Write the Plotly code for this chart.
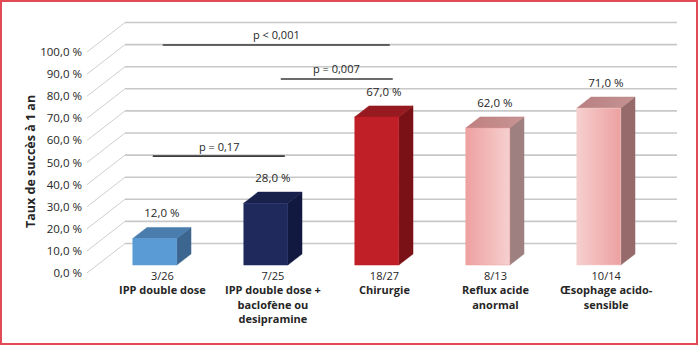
import plotly.graph_objects as go

# ---------------- data ----------------
fractions = ["3/26", "7/25", "18/27", "8/13", "10/14"]
names = ["IPP double dose", "IPP double dose +<br>baclofène ou<br>desipramine", "Chirurgie",
         "Reflux acide<br>anormal", "Œsophage acido-<br>sensible"]
values = [12.0, 28.0, 67.0, 62.0, 71.0]
value_text = ["12,0 %", "28,0 %", "67,0 %", "62,0 %", "71,0 %"]
tick_vals = [0, 10, 20, 30, 40, 50, 60, 70, 80, 90, 100]
tick_text = ["0,0 %", "10,0 %", "20,0 %", "30,0 %", "40,0 %", "50,0 %", "60,0 %",
             "70,0 %", "80,0 %", "90,0 %", "100,0 %"]
y_title = "Taux de succès à 1 an"
p_text = ["p < 0,001", "p = 0,007", "p = 0,17"]
p_pairs = [(0, 2), (1, 2), (0, 1)]
p_level = [103.2, 87.8, 52.9]

# ---------------- style / geometry ----------------
W, H = 700, 346
PX_CAT, PX_PCT = 111.0, 2.21
ORIGIN_X, ORIGIN_Y = 144.5, 273.0
DEPTH_DX, DEPTH_DY = 38.0, 29.5
KX, KV = DEPTH_DX / PX_CAT, DEPTH_DY / PX_PCT
D0, D1 = 0.27, 0.645
HW = 22.0 / PX_CAT
X_LEFT = (87 - ORIGIN_X) / PX_CAT
X_RIGHT = (677 - DEPTH_DX - ORIGIN_X) / PX_CAT
FONT = "Open Sans"
TXT = "#262626"
BRACKET_PAD = [(8, 13), (15, 16), (-2, 19)]

face_styles = [
    dict(front="#5b9bd5", top="#4a7cae", side="#3c668f"),
    dict(front="#1f295c", top="#18204c", side="#111940"),
    dict(front="#c01f28", top="#961a1f", side="#7a1116"),
    dict(front=("#eea0a0", "#f6d0d0"), top=("#bf7f7f", "#c89595"), side="#9e8080"),
    dict(front=("#f6cfcf", "#eda0a0"), top=("#b98080", "#c49292"), side="#966a6a"),
]


def P(x, v, d):
    return x + KX * d, v + KV * d


fig = go.Figure()

# grid: side wall diagonals and back wall lines
dx, dy, bx, by = [], [], [], []
for t in tick_vals:
    a = P(X_LEFT, t, 0)
    b = P(X_LEFT, t, 1)
    c = P(X_RIGHT, t, 1)
    dx += [a[0], b[0], None]
    dy += [a[1], b[1], None]
    bx += [b[0], c[0], None]
    by += [b[1], c[1], None]
fig.add_trace(go.Scatter(x=dx, y=dy, mode="lines", line=dict(color="#cfcfcf", width=1),
                         hoverinfo="skip", showlegend=False))
fig.add_trace(go.Scatter(x=bx, y=by, mode="lines", line=dict(color="#c8c8c8", width=1.6),
                         hoverinfo="skip", showlegend=False))


def face(pts, col):
    xs = [p[0] for p in pts] + [pts[0][0]]
    ys = [p[1] for p in pts] + [pts[0][1]]
    kw = dict(x=xs, y=ys, mode="lines", fill="toself", hoverinfo="skip", showlegend=False)
    if isinstance(col, tuple):
        kw["line"] = dict(width=0.5, color=col[0])
        kw["fillcolor"] = col[0]
        kw["fillgradient"] = dict(type="horizontal", colorscale=[[0, col[0]], [1, col[1]]])
    else:
        kw["line"] = dict(width=0.5, color=col)
        kw["fillcolor"] = col
    fig.add_trace(go.Scatter(**kw))


for i, v in enumerate(values):
    st = face_styles[i]
    l, r = i - HW, i + HW
    face([P(r, 0, D0), P(r, 0, D1), P(r, v, D1), P(r, v, D0)], st["side"])
    face([P(l, v, D0), P(r, v, D0), P(r, v, D1), P(l, v, D1)], st["top"])
    face([P(l, 0, D0), P(r, 0, D0), P(r, v, D0), P(l, v, D0)], st["front"])

# value labels
lx = [P(i, v, (D0 + D1) / 2)[0] for i, v in enumerate(values)]
ly = [P(i, v, D1)[1] + 13 / PX_PCT for i, v in enumerate(values)]
fig.add_trace(go.Scatter(x=lx, y=ly, mode="text", text=value_text, textposition="middle center",
                         textfont=dict(family=FONT, size=11.5, color=TXT),
                         hoverinfo="skip", showlegend=False))

annotations = []
# category labels
for i, (fr, nm) in enumerate(zip(fractions, names)):
    annotations.append(dict(
        x=i + 17.5 / PX_CAT, y=(ORIGIN_Y - 266) / PX_PCT, xref="x", yref="y",
        text=f"{fr}<br><b>{nm}</b>", showarrow=False, yanchor="top", xanchor="center",
        align="center", font=dict(family=FONT, size=11, color=TXT)))

# p-value brackets
for k, (txt, (a, b), lev) in enumerate(zip(p_text, p_pairs, p_level)):
    x0 = P(a, 0, D0)[0] + BRACKET_PAD[k][0] / PX_CAT
    x1 = P(b, 0, D0)[0] + BRACKET_PAD[k][1] / PX_CAT
    fig.add_trace(go.Scatter(x=[x0, x1], y=[lev, lev], mode="lines",
                             line=dict(color="#3a3a3a", width=1.6),
                             hoverinfo="skip", showlegend=False))
    annotations.append(dict(x=(x0 + x1) / 2, y=lev + 10 / PX_PCT, xref="x", yref="y",
                            text=txt, showarrow=False, xanchor="center", yanchor="middle",
                            font=dict(family=FONT, size=11, color=TXT)))

# y-axis title
annotations.append(dict(x=30 / W, y=1 - 162 / H, xref="paper", yref="paper", text=f"<b>{y_title}</b>",
                        textangle=-90, showarrow=False, xanchor="center", yanchor="middle",
                        font=dict(family=FONT, size=12.5, color=TXT)))

fig.update_layout(
    width=W, height=H, margin=dict(l=0, r=0, t=0, b=0),
    paper_bgcolor="white", plot_bgcolor="white",
    xaxis=dict(range=[-ORIGIN_X / PX_CAT, (W - ORIGIN_X) / PX_CAT], visible=False, domain=[0, 1]),
    yaxis=dict(range=[(ORIGIN_Y - H) / PX_PCT, ORIGIN_Y / PX_PCT], domain=[0, 1],
               anchor="free", position=87 / W, side="left",
               tickvals=tick_vals, ticktext=tick_text, showgrid=False, zeroline=False,
               showline=False, ticks="", ticklabelstandoff=5,
               tickfont=dict(family=FONT, size=11.5, color=TXT)),
    annotations=annotations,
    shapes=[dict(type="rect", xref="paper", yref="paper", x0=1 / W, x1=697 / W,
                 y0=(H - 344) / H, y1=1 - 1 / H, line=dict(color="#e24b55", width=2))],
    showlegend=False,
)

fig.write_html("out.html")
